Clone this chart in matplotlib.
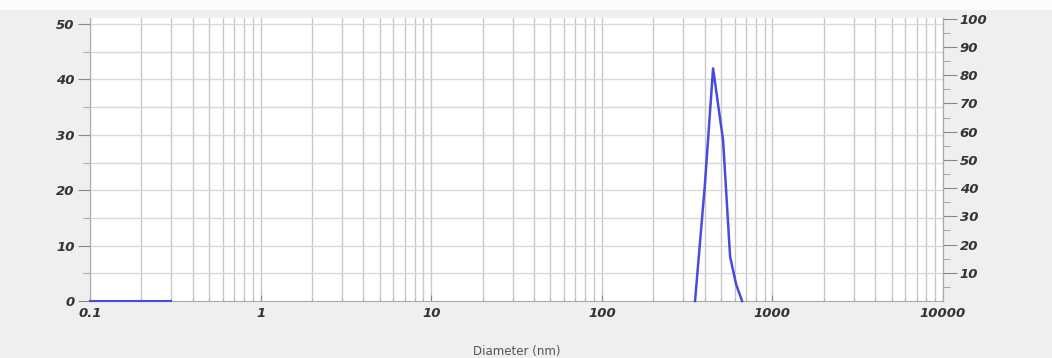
import matplotlib
matplotlib.use("Agg")
import matplotlib.pyplot as plt
from matplotlib.ticker import FixedLocator, NullFormatter
from matplotlib.patches import Rectangle

# Data
base_sizes = [0.1, 0.2, 0.3]
base_values = [0.0, 0.0, 0.0]
peak_sizes = [352.0, 402.0, 449.0, 514.0, 565.0, 613.0, 664.0]
peak_values = [0.0, 21.0, 42.0, 29.0, 8.0, 3.0, 0.0]
left_ticks = [0, 10, 20, 30, 40, 50]
right_ticks = [10, 20, 30, 40, 50, 60, 70, 80, 90, 100]
x_major = [0.1, 1, 10, 100, 1000, 10000]
x_labels = ["0.1", "1", "10", "100", "1000", "10000"]
x_title = "Diameter (nm)"

fig = plt.figure(figsize=(10.52, 3.58), dpi=100, facecolor="#efefef")
fig.patches.append(Rectangle((0, 1 - 10/358), 1, 10/358, transform=fig.transFigure,
                             facecolor="#fbfbfb", edgecolor="none", zorder=0))
ax = fig.add_axes([90/1052, 1-301/358, (943-90)/1052, (301-18)/358])
ax.set_facecolor("white")
ax.set_xscale("log")
ax.set_xlim(0.1, 10000)
ax.set_ylim(0, 51.1)

minor = [m * 10.0**e for e in range(-1, 4) for m in range(2, 10)]
ax.xaxis.set_major_locator(FixedLocator(x_major))
ax.xaxis.set_minor_locator(FixedLocator(minor))
ax.xaxis.set_minor_formatter(NullFormatter())
ax.set_xticks(x_major)
ax.set_xticklabels(x_labels)
ax.set_yticks(left_ticks)
ax.set_yticks([5, 15, 25, 35, 45], minor=True)

for v in minor + x_major:
    ax.axvline(v, color="#c8c8c8", lw=1.0, zorder=1)
for h in range(5, 51, 5):
    ax.axhline(h, color="#d8d8d8", lw=1.0, zorder=1)

for lab in ax.get_xticklabels() + ax.get_yticklabels():
    lab.set_fontsize(9.5); lab.set_fontweight("bold"); lab.set_fontstyle("italic"); lab.set_color("#333333")

ax.tick_params(axis="y", which="major", length=9, color="#888888", pad=2)
ax.tick_params(axis="y", which="minor", length=5, color="#999999")
ax.tick_params(axis="x", which="major", length=4, color="#888888", pad=4, direction="in")
ax.tick_params(axis="x", which="minor", length=2, color="#aaaaaa", direction="in")

ax.spines["top"].set_visible(False)
for s in ["left", "right", "bottom"]:
    ax.spines[s].set_color("#aaaaaa")

ax.plot(base_sizes, base_values, color="#4a4ade", lw=1.5, zorder=3, clip_on=False)
ax.plot(peak_sizes, peak_values, color="#4a4ade", lw=1.8, zorder=3, clip_on=False)

ax2 = ax.twinx()
ax2.set_ylim(0, 100.3)
ax2.set_yticks(right_ticks)
ax2.set_yticks([5, 15, 25, 35, 45, 55, 65, 75, 85, 95], minor=True)
ax2.spines["top"].set_visible(False)
ax2.spines["left"].set_visible(False)
ax2.spines["bottom"].set_visible(False)
ax2.spines["right"].set_color("#aaaaaa")
ax2.tick_params(axis="y", which="major", length=10, color="#888888", pad=2)
ax2.tick_params(axis="y", which="minor", length=5, color="#999999")
for lab in ax2.get_yticklabels():
    lab.set_fontsize(9.5); lab.set_fontweight("bold"); lab.set_fontstyle("italic"); lab.set_color("#333333")

fig.text(517/1052, 1-351/358, x_title, ha="center", va="center", fontsize=8.5, color="#555555")

fig.savefig("out.png", dpi=100, facecolor=fig.get_facecolor())
